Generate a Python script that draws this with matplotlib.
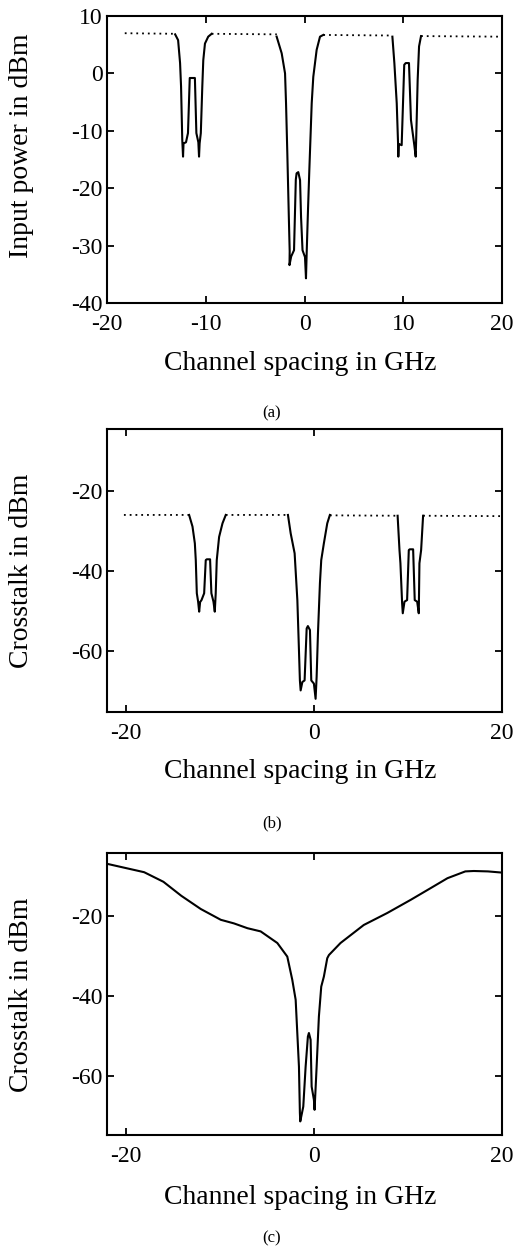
import numpy as np
import matplotlib
matplotlib.use("Agg")
from matplotlib import pyplot as plt

nan = np.nan

# (a) input power, dotted = flat level between the filter dips
a_dot_x = [-18.2, -13.1, nan, -9.4, -2.8, nan, 1.9, 8.9, nan, 11.8, 19.8]
a_dot_y = [7.0, 6.9, nan, 6.9, 6.8, nan, 6.7, 6.6, nan, 6.5, 6.4]

a_left_x = [-13.1, -12.8, -12.6, -12.5, -12.38, -12.3, -12.25, -12.0, -11.8, -11.62, -11.1,
            -10.95, -10.75, -10.68, -10.62, -10.5, -10.35, -10.25, -10.08, -9.75, -9.4]
a_left_y = [6.8, 5.8, 1.8, -2.3, -11.5, -14.5, -12.2, -12.0, -10.4, -0.8, -0.8,
            -10.4, -12.0, -14.5, -12.2, -10.4, -2.3, 2.3, 5.2, 6.4, 6.9]

a_mid_x = [-2.82, -2.31, -1.97, -1.87, -1.74, -1.58, -1.5, -1.52, -1.35, -1.06, -0.88, -0.8,
           -0.63, -0.45, -0.35, -0.2, 0.05, 0.15, 0.22, 0.35, 0.49, 0.73, 0.89, 1.23, 1.57, 1.9]
a_mid_y = [6.4, 3.5, 0.0, -5.2, -13.9, -25.5, -31.0, -33.4, -31.9, -30.8, -18.5, -17.4,
           -17.2, -18.6, -25.0, -30.8, -32.0, -35.7, -31.3, -24.0, -16.8, -5.2, -0.6, 4.1, 6.4, 6.7]

a_right_x = [8.9, 9.1, 9.34, 9.47, 9.5, 9.55, 9.84, 10.1, 10.25, 10.58, 10.78, 11.12,
             11.26, 11.3, 11.36, 11.46, 11.6, 11.8]
a_right_y = [6.4, 1.8, -5.2, -12.0, -14.5, -12.3, -12.5, 1.5, 1.8, 1.8, -8.1, -12.5,
             -14.5, -12.0, -8.1, -1.1, 4.7, 6.5]

# (b) crosstalk
b_dot_x = [-20.2, -13.27, nan, -9.37, -2.76, nan, 1.7, 8.9, nan, 11.61, 20.0]
b_dot_y = [-26.0, -26.0, nan, -26.0, -26.0, nan, -26.1, -26.2, nan, -26.2, -26.3]

b_left_x = [-13.27, -12.91, -12.66, -12.56, -12.45, -12.31, -12.2, -12.1, -11.95, -11.67, -11.5,
            -11.39, -11.04, -10.9, -10.68, -10.54, -10.44, -10.33, -10.08, -9.72, -9.37]
b_left_y = [-26.0, -28.9, -33.1, -37.3, -45.6, -47.7, -50.2, -47.8, -47.3, -45.6, -37.3,
            -37.1, -37.1, -45.6, -47.7, -50.2, -45.6, -37.3, -31.5, -28.1, -26.0]

b_mid_x = [-2.76, -2.47, -2.05, -1.76, -1.59, -1.49, -1.41, -1.23, -0.99, -0.77, -0.64,
           -0.42, -0.28, 0.0, 0.18, 0.29, 0.43, 0.64, 0.78, 1.06, 1.42, 1.7]
b_mid_y = [-26.0, -30.6, -35.6, -47.3, -59.8, -67.4, -69.9, -67.8, -67.4, -54.4, -53.8,
           -54.8, -67.4, -68.2, -72.0, -66.5, -55.7, -43.1, -37.3, -33.1, -28.1, -26.0]

b_right_x = [8.9, 9.1, 9.2, 9.38, 9.45, 9.63, 9.91, 10.09, 10.19, 10.55, 10.72, 10.98,
             11.15, 11.22, 11.4, 11.61]
b_right_y = [-26.2, -34.8, -38.1, -48.1, -50.6, -47.7, -47.3, -34.8, -34.6, -34.6, -47.3, -47.7,
             -50.6, -38.1, -34.8, -26.2]

# (c) crosstalk, continuous curve
c_x = [-22.0, -18.05, -16.0, -14.1, -12.03, -9.9, -8.5, -7.07, -5.66, -3.89, -2.83, -2.3,
       -1.94, -1.59, -1.49, -1.45, -1.13, -0.88, -0.64, -0.53, -0.35, -0.24, 0.0, 0.07,
       0.29, 0.53, 0.78, 1.06, 1.42, 1.6, 2.83, 5.3, 7.8, 10.3, 12.4, 14.2, 16.1, 17.0,
       18.5, 20.0]
c_y = [-7.0, -9.1, -11.5, -15.0, -18.3, -21.0, -21.9, -23.1, -23.9, -26.8, -30.2, -36.0,
       -41.0, -57.7, -69.3, -71.4, -67.7, -57.7, -50.2, -49.3, -51.0, -62.7, -66.0, -68.5,
       -57.7, -45.2, -37.7, -35.2, -30.6, -29.8, -26.8, -22.3, -19.3, -16.0, -13.1, -10.6,
       -8.9, -8.8, -8.9, -9.2]

a_yticks = [-40, -30, -20, -10, 0, 10]
a_xticks = [-20, -10, 0, 10, 20]
bc_yticks = [-60, -40, -20]
bc_xticks = [-20, 0, 20]

plt.rcParams['font.family'] = ['Liberation Serif', 'DejaVu Serif']
plt.rcParams['axes.unicode_minus'] = False

W, H = 515, 1249
fig = plt.figure(figsize=(W / 100, H / 100), dpi=100)


def box(l, t, r, b):
    return [l / W, 1 - b / H, (r - l) / W, (b - t) / H]


def style(ax):
    for s in ax.spines.values():
        s.set_linewidth(1.5)
    ax.tick_params(direction="in", top=True, right=True, length=5, width=1.3,
                   labelsize=17)
    ax.tick_params(axis="x", pad=8)
    ax.tick_params(axis="y", pad=3)


def ftext(x, y, s, **kw):
    fig.text(x / W, 1 - y / H, s, ha="center", va="center", **kw)


lw = 1.5
dots = (0, (1, 2.2))

ax = fig.add_axes(box(107, 16, 502, 303))
ax.plot(a_dot_x, a_dot_y, color="black", ls=dots, lw=1.3)
for xs, ys in [(a_left_x, a_left_y), (a_mid_x, a_mid_y), (a_right_x, a_right_y)]:
    ax.plot(xs, ys, color="black", lw=lw)
ax.set_xlim(-20, 20)
ax.set_ylim(-40, 10)
ax.set_xticks(a_xticks)
ax.set_yticks(a_yticks)
style(ax)
ftext(22, 146, "Input power in dBm", rotation=90, fontsize=20)
ftext(300, 364, "Channel spacing in GHz", fontsize=20)
ftext(272, 413, "(a)", fontsize=12)

ax = fig.add_axes(box(107, 429, 502, 712))
ax.plot(b_dot_x, b_dot_y, color="black", ls=dots, lw=1.3)
for xs, ys in [(b_left_x, b_left_y), (b_mid_x, b_mid_y), (b_right_x, b_right_y)]:
    ax.plot(xs, ys, color="black", lw=lw)
ax.set_xlim(-22, 20)
ax.set_ylim(-75.3, -4.5)
ax.set_xticks(bc_xticks)
ax.set_yticks(bc_yticks)
style(ax)
ftext(22, 571, "Crosstalk in dBm", rotation=90, fontsize=20)
ftext(300, 772, "Channel spacing in GHz", fontsize=20)
ftext(272, 823, "(b)", fontsize=12)

ax = fig.add_axes(box(107, 853, 502, 1135))
ax.plot(c_x, c_y, color="black", lw=lw)
ax.set_xlim(-22, 20)
ax.set_ylim(-74.8, -4.3)
ax.set_xticks(bc_xticks)
ax.set_yticks(bc_yticks)
style(ax)
ftext(22, 995, "Crosstalk in dBm", rotation=90, fontsize=20)
ftext(300, 1197, "Channel spacing in GHz", fontsize=20)
ftext(272, 1238, "(c)", fontsize=12)

fig.savefig("out.png", dpi=100)
